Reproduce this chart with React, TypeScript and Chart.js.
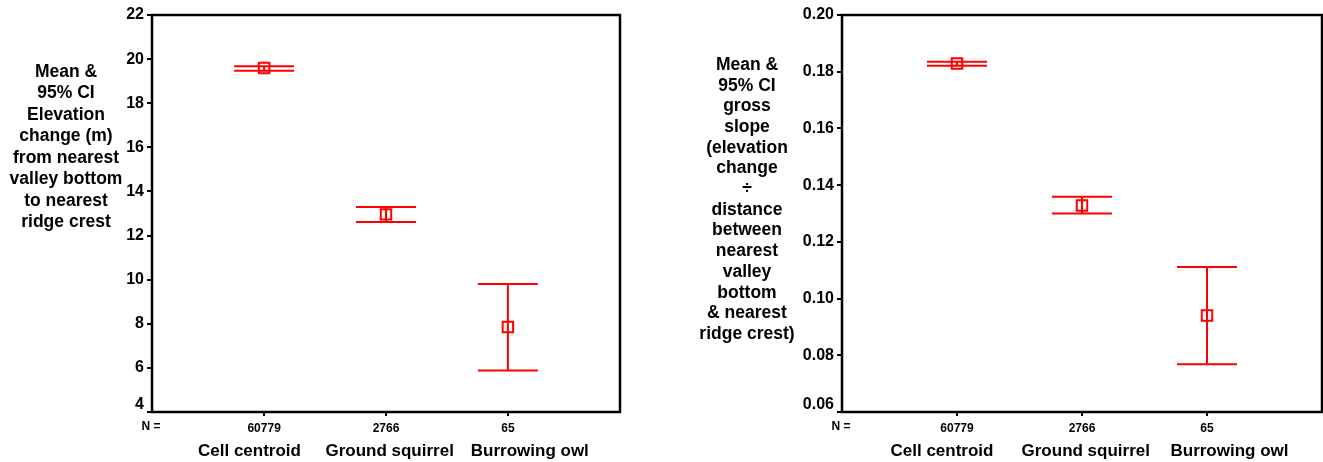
import React, { useEffect, useRef } from 'react';
import { Chart, registerables } from 'chart.js';

Chart.register(...registerables);

// ---------- data ----------
const categories = ['Cell centroid', 'Ground squirrel', 'Burrowing owl'];
const counts = ['60779', '2766', '65'];

const elevMean = [19.6, 12.96, 7.85];
const elevLower = [19.47, 12.61, 5.88];
const elevUpper = [19.68, 13.3, 9.8];

const slopeMean = [0.1829, 0.1328, 0.094];
const slopeLower = [0.1821, 0.13, 0.0768];
const slopeUpper = [0.1835, 0.1359, 0.1111];

const elevTitle = ['Mean &', '95% CI', 'Elevation', 'change (m)', 'from nearest', 'valley bottom', 'to nearest', 'ridge crest'];
const slopeTitle = ['Mean &', '95% CI', 'gross', 'slope', '(elevation', 'change', '÷', 'distance', 'between', 'nearest', 'valley', 'bottom', '& nearest', 'ridge crest)'];

const FONT = "'Liberation Sans', Arial, Helvetica, sans-serif";
const RED = '#ff0000';

type PanelProps = {
  mean: number[];
  lower: number[];
  upper: number[];
  yMin: number;
  yMax: number;
  yStep: number;
  decimals: number;
  title: string[];
  titleX: number;
  titleY: number;
  titleGap: number;
  yAxisWidth: number;
  padRight: number;
  width: number;
  left: number;
};

function Panel(p: PanelProps) {
  const ref = useRef<HTMLCanvasElement | null>(null);

  useEffect(() => {
    if (!ref.current) return;

    const errorBars = {
      id: 'errorBars',
      beforeDatasetsDraw(chart: any) {
        const ctx = chart.ctx;
        const xs = chart.scales.x;
        const ys = chart.scales.y;
        ctx.save();
        ctx.strokeStyle = RED;
        ctx.lineWidth = 2;
        p.mean.forEach((_, i) => {
          const x = xs.getPixelForValue(i + 1);
          const yl = ys.getPixelForValue(p.lower[i]);
          const yu = ys.getPixelForValue(p.upper[i]);
          ctx.beginPath();
          ctx.moveTo(x, yu);
          ctx.lineTo(x, yl);
          ctx.moveTo(x - 30, yu);
          ctx.lineTo(x + 30, yu);
          ctx.moveTo(x - 30, yl);
          ctx.lineTo(x + 30, yl);
          ctx.stroke();
        });
        ctx.restore();
      },
    };

    const decorations = {
      id: 'decorations',
      afterDraw(chart: any) {
        const ctx = chart.ctx;
        const a = chart.chartArea;
        const xs = chart.scales.x;
        const ys = chart.scales.y;
        ctx.save();
        // frame
        ctx.strokeStyle = '#000';
        ctx.lineWidth = 2.5;
        ctx.strokeRect(a.left, a.top, a.right - a.left, a.bottom - a.top);
        ctx.fillStyle = '#000';
        // lowest y tick label, lifted above the corner as in the original
        ctx.font = `bold 16px ${FONT}`;
        ctx.textAlign = 'right';
        ctx.textBaseline = 'middle';
        ctx.fillText(p.yMin.toFixed(p.decimals), a.left - 8, ys.getPixelForValue(p.yMin) - 7);
        // N =
        ctx.textAlign = 'center';
        ctx.font = `bold 12px ${FONT}`;
        ctx.fillText('N =', a.left - 1, 427);
        // category names
        const labelPos = [0.88, 2.03, 3.18];
        ctx.font = `bold 17px ${FONT}`;
        categories.forEach((c, i) => {
          ctx.fillText(c, xs.getPixelForValue(labelPos[i]), 451);
        });
        // y title
        ctx.font = `bold 17.5px ${FONT}`;
        p.title.forEach((line, i) => {
          ctx.fillText(line, p.titleX, p.titleY + i * p.titleGap);
        });
        ctx.restore();
      },
    };

    const chart = new Chart(ref.current, {
      type: 'scatter',
      data: {
        datasets: [
          {
            data: p.mean.map((m, i) => ({ x: i + 1, y: m })),
            pointStyle: 'rect',
            pointRadius: 7.4,
            pointHoverRadius: 7.4,
            borderColor: RED,
            backgroundColor: 'rgba(0,0,0,0)',
            borderWidth: 2,
            showLine: false,
          },
        ],
      },
      options: {
        animation: false,
        responsive: false,
        maintainAspectRatio: false,
        events: [],
        layout: { autoPadding: false, padding: { top: 15, right: p.padRight, bottom: 0, left: 0 } },
        plugins: { legend: { display: false }, tooltip: { enabled: false } },
        scales: {
          x: {
            type: 'linear',
            min: 0.08,
            max: 3.92,
            afterBuildTicks: (s: any) => {
              s.ticks = categories.map((_, i) => ({ value: i + 1 }));
            },
            afterFit: (s: any) => {
              s.height = 50;
              s.paddingLeft = 0;
              s.paddingRight = 0;
            },
            border: { display: false },
            grid: {
              display: true,
              drawOnChartArea: false,
              drawTicks: true,
              tickLength: 4,
              color: '#000',
              lineWidth: 2,
            },
            ticks: {
              autoSkip: false,
              maxRotation: 0,
              padding: 5,
              color: '#000',
              font: { family: FONT, size: 12, weight: 'bold' },
              callback: (v: any) => counts[Math.round(Number(v)) - 1] ?? '',
            },
          },
          y: {
            type: 'linear',
            min: p.yMin,
            max: p.yMax,
            afterFit: (s: any) => {
              s.width = p.yAxisWidth;
            },
            border: { display: false },
            grid: {
              display: true,
              drawOnChartArea: false,
              drawTicks: true,
              tickLength: 5,
              color: '#000',
              lineWidth: 2,
            },
            ticks: {
              stepSize: p.yStep,
              padding: 3,
              color: '#000',
              font: { family: FONT, size: 16, weight: 'bold' },
              callback: (v: any) =>
                Math.abs(Number(v) - p.yMin) < 1e-9 ? '' : Number(v).toFixed(p.decimals),
            },
          },
        },
      },
      plugins: [errorBars, decorations],
    } as any);

    return () => chart.destroy();
  }, []);

  return (
    <canvas
      ref={ref}
      width={p.width}
      height={462}
      style={{ position: 'absolute', left: p.left, top: 0, width: p.width, height: 462 }}
    />
  );
}

export default function App() {
  return (
    <div style={{ position: 'fixed', left: 0, top: 0, width: 1323, height: 462, background: '#fff' }}>
      <Panel
        mean={elevMean}
        lower={elevLower}
        upper={elevUpper}
        yMin={4}
        yMax={22}
        yStep={2}
        decimals={0}
        title={elevTitle}
        titleX={66}
        titleY={72}
        titleGap={21.5}
        yAxisWidth={152}
        padRight={40}
        width={660}
        left={0}
      />
      <Panel
        mean={slopeMean}
        lower={slopeLower}
        upper={slopeUpper}
        yMin={0.06}
        yMax={0.2}
        yStep={0.02}
        decimals={2}
        title={slopeTitle}
        titleX={87}
        titleY={65}
        titleGap={20.7}
        yAxisWidth={182}
        padRight={1}
        width={663}
        left={660}
      />
    </div>
  );
}
